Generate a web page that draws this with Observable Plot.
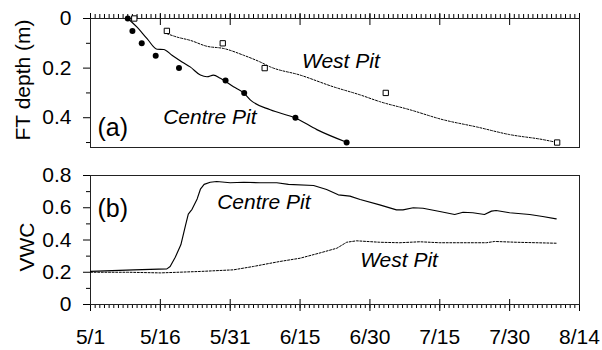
<!DOCTYPE html>
<html><head><meta charset="utf-8">
<script src="https://cdn.jsdelivr.net/npm/d3@7"></script>
<script src="https://cdn.jsdelivr.net/npm/@observablehq/plot@0.6"></script>
<style>
body{margin:0;background:#fff;}
#chart{width:602px;height:350px;font-family:"Liberation Sans",Arial,sans-serif;background:#fff;}
#chart svg{display:block;}
</style></head><body><div id="chart"></div>
<script>
// ---- x axis (dates, season 2000) ----
const xTickLabels = ["5/1","5/16","5/31","6/15","6/30","7/15","7/30","8/14"];

// ---- panel (a): frost-table depth (m); x given as days since 5/1 ----
const centreDotDay   = [8, 9, 11, 14, 19, 29, 33, 44, 55];
const centreDotDepth = [0, 0.05, 0.1, 0.15, 0.2, 0.25, 0.3, 0.4, 0.5];
const westSquareDay   = [9.4, 16.4, 28.4, 37.4, 63.4, 100.2];
const westSquareDepth = [0, 0.05, 0.1, 0.2, 0.3, 0.5];
const centreFtDay   = [8, 10.0, 12.15, 14.3, 15.7, 17.5, 19.65, 21.4, 23.6, 25.0, 26.4, 27.9, 30.7, 32.85, 34.3, 38.6, 44.0, 48.6, 55.0];
const centreFtDepth = [0, 0.035, 0.081, 0.124, 0.125, 0.148, 0.175, 0.195, 0.228, 0.235, 0.228, 0.241, 0.275, 0.299, 0.328, 0.368, 0.401, 0.448, 0.499];
const westFtDay   = [16.4, 18.6, 21.4, 25.0, 28.6, 32.85, 36.4, 38.6, 45.0, 52.1, 57.9, 62.1, 68.6, 75.7, 82.9, 90.0, 97.1, 100.0];
const westFtDepth = [0.061, 0.075, 0.088, 0.112, 0.121, 0.148, 0.175, 0.195, 0.228, 0.275, 0.308, 0.335, 0.368, 0.408, 0.437, 0.468, 0.488, 0.499];
const yTicksA = [0, 0.2, 0.4];
const yTickLabelsA = ["0", "0.2", "0.4"];
const yMinorA = [0.1, 0.3, 0.5];

// ---- panel (b): volumetric water content ----
const centreVwcDay = [0, 9.3, 16.4, 17.1, 18.2, 19.4, 20.4, 21.0, 21.8, 22.9, 23.6, 24.4, 25.7, 27.1, 30.0, 32.9, 36.4, 40.0, 42.5, 47.9, 50.7, 53.2, 55.7, 57.9, 62.1, 65.7, 67.1, 69.3, 71.4, 75.0, 78.2, 80.0, 82.1, 84.6, 86.1, 87.1, 90.0, 94.3, 97.1, 100.0];
const centreVwc    = [0.205, 0.215, 0.221, 0.236, 0.293, 0.37, 0.49, 0.56, 0.59, 0.655, 0.715, 0.745, 0.758, 0.763, 0.755, 0.758, 0.755, 0.755, 0.745, 0.738, 0.713, 0.68, 0.672, 0.651, 0.618, 0.587, 0.587, 0.6, 0.597, 0.577, 0.558, 0.572, 0.569, 0.558, 0.579, 0.583, 0.569, 0.558, 0.546, 0.531];
const westVwcDay = [0, 8, 15, 23.6, 30.7, 35, 37.9, 40.7, 45, 49.3, 52.9, 55, 57.1, 62.1, 66.4, 70.7, 75, 80, 85, 86.8, 91.4, 100];
const westVwc    = [0.2, 0.2, 0.196, 0.205, 0.215, 0.236, 0.252, 0.267, 0.287, 0.32, 0.349, 0.386, 0.395, 0.386, 0.383, 0.389, 0.383, 0.383, 0.383, 0.391, 0.386, 0.38];
const yTicksB = [0, 0.2, 0.4, 0.6, 0.8];
const yTickLabelsB = ["0", "0.2", "0.4", "0.6", "0.8"];
const yMinorB = [0.1, 0.3, 0.5, 0.7];

// ---- helpers ----
const t0 = Date.UTC(2000, 4, 1);
const toDate = d => new Date(t0 + d * 864e5);
const parseMD = s => { const [m, d] = s.split("/").map(Number); return new Date(Date.UTC(2000, m - 1, d)); };
const xTickDates = xTickLabels.map(parseMD);
const xLabelMap = new Map(xTickDates.map((d, i) => [+d, xTickLabels[i]]));
const xDomain = [xTickDates[0], xTickDates[xTickDates.length - 1]];
const minorX = d3.utcDay.range(xDomain[0], new Date(+xDomain[1] + 864e5));
const zip = (xs, ys) => xs.map((x, i) => ({x: toDate(x), y: ys[i]}));
const mapOf = (vals, labs) => new Map(vals.map((v, i) => [v, labs[i]]));
const yLabA = mapOf(yTicksA, yTickLabelsA);
const yLabB = mapOf(yTicksB, yTickLabelsB);
const blank = () => "";
const font = "'Liberation Sans', Arial, Helvetica, sans-serif";
const FS = 21;
const style = {fontFamily: font, fontSize: FS + "px", color: "#000", background: "#fff", overflow: "visible"};

const plotA = Plot.plot({
  width: 602, height: 160,
  marginLeft: 90, marginRight: 23, marginTop: 18, marginBottom: 13,
  style,
  x: {type: "utc", domain: xDomain},
  y: {domain: [0, 0.52], reverse: true},
  marks: [
    Plot.axisX(minorX, {anchor: "top", tickSize: 5, tickFormat: blank, label: null}),
    Plot.axisX(xTickDates, {anchor: "top", tickSize: 12, dy: 6, tickFormat: blank, label: null}),
    Plot.axisY(yMinorA, {anchor: "left", tickSize: 4, tickFormat: blank, label: null}),
    Plot.axisY(yTicksA, {anchor: "left", tickSize: 7, tickPadding: 12, tickFormat: d => yLabA.get(d), label: null}),
    Plot.frame({stroke: "#222"}),
    Plot.line(zip(westFtDay, westFtDepth), {x: "x", y: "y", stroke: "#000", strokeWidth: 1, strokeDasharray: "2,1.6", curve: "monotone-x"}),
    Plot.line(zip(centreFtDay, centreFtDepth), {x: "x", y: "y", stroke: "#000", strokeWidth: 1.15, curve: "monotone-x"}),
    Plot.dot(zip(centreDotDay, centreDotDepth), {x: "x", y: "y", r: 3, fill: "#000", stroke: "none"}),
    Plot.dot(zip(westSquareDay, westSquareDepth), {x: "x", y: "y", r: 3, symbol: "square", fill: "#fff", stroke: "#000", strokeWidth: 1}),
    Plot.text(["FT depth (m)"], {frameAnchor: "left", textAnchor: "middle", rotate: -90, dx: -67, dy: -3, fontSize: FS}),
    Plot.text(["(a)"], {frameAnchor: "bottom-left", dx: 7, dy: -12, fontSize: 25, textAnchor: "start"}),
    Plot.text([{t: "Centre Pit", x: toDate(15.6), y: 0.398}], {x: "x", y: "y", text: "t", textAnchor: "start", fontSize: FS, fontStyle: "italic"}),
    Plot.text([{t: "West Pit", x: toDate(45.4), y: 0.174}], {x: "x", y: "y", text: "t", textAnchor: "start", fontSize: FS, fontStyle: "italic"})
  ]
});

const plotB = Plot.plot({
  width: 602, height: 190,
  marginLeft: 90, marginRight: 23, marginTop: 15, marginBottom: 46,
  style,
  x: {type: "utc", domain: xDomain},
  y: {domain: [0, 0.8]},
  marks: [
    Plot.axisX(minorX, {anchor: "bottom", tickSize: 4, tickFormat: blank, label: null}),
    Plot.axisX(xTickDates, {anchor: "bottom", tickSize: 12, dy: -5, tickFormat: blank, label: null}),
    Plot.axisX(xTickDates, {anchor: "bottom", tickSize: 0, tickPadding: 25, tickFormat: d => xLabelMap.get(+d), label: null}),
    Plot.axisY(yMinorB, {anchor: "left", tickSize: 4, tickFormat: blank, label: null}),
    Plot.axisY(yTicksB, {anchor: "left", tickSize: 7, tickPadding: 12, tickFormat: d => yLabB.get(d), label: null}),
    Plot.frame({stroke: "#222"}),
    Plot.line(zip(westVwcDay, westVwc), {x: "x", y: "y", stroke: "#000", strokeWidth: 1, strokeDasharray: "2,1.6"}),
    Plot.line(zip(centreVwcDay, centreVwc), {x: "x", y: "y", stroke: "#000", strokeWidth: 1.15}),
    Plot.text(["VWC"], {frameAnchor: "left", textAnchor: "middle", rotate: -90, dx: -63, dy: 7, fontSize: FS}),
    Plot.text(["(b)"], {frameAnchor: "top-left", dx: 7, dy: 24, fontSize: 25, textAnchor: "start"}),
    Plot.text([{t: "Centre Pit", x: toDate(27.2), y: 0.635}], {x: "x", y: "y", text: "t", textAnchor: "start", fontSize: FS, fontStyle: "italic"}),
    Plot.text([{t: "West Pit", x: toDate(57.9), y: 0.275}], {x: "x", y: "y", text: "t", textAnchor: "start", fontSize: FS, fontStyle: "italic"})
  ]
});

const chart = document.getElementById("chart");
chart.appendChild(plotA);
chart.appendChild(plotB);
</script></body></html>
